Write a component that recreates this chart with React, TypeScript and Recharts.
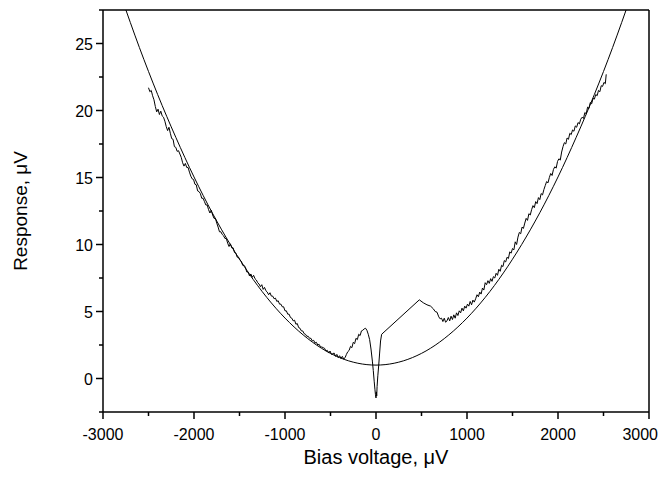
import { LineChart, Line, XAxis, YAxis } from 'recharts'

const FONT = 'Liberation Sans, Arial, Helvetica, sans-serif'

const X_TICKS = [-3000, -2500, -2000, -1500, -1000, -500, 0, 500, 1000, 1500, 2000, 2500, 3000]
const Y_TICKS = [-2.5, 0, 2.5, 5, 7.5, 10, 12.5, 15, 17.5, 20, 22.5, 25, 27.5]

// fitted parabola
const FIT: [number, number][] = [
  [-2800, 28.5], [-2600, 24.7], [-2400, 21.2], [-2200, 18.0], [-2000, 15.04], [-1800, 12.37],
  [-1600, 9.99], [-1400, 7.88], [-1200, 6.05], [-1000, 4.51], [-800, 3.25], [-600, 2.26],
  [-400, 1.56], [-200, 1.14], [0, 1.0], [200, 1.14], [400, 1.56], [600, 2.26], [800, 3.25],
  [1000, 4.51], [1200, 6.05], [1400, 7.88], [1600, 9.99], [1800, 12.37], [2000, 15.04],
  [2200, 18.0], [2400, 21.2], [2600, 24.7], [2800, 28.5],
]

// measured response, negative bias side
const TRACE_LEFT: [number, number][] = [
  [-2500, 21.7], [-2485, 21.4], [-2470, 21.5], [-2455, 21.1], [-2440, 20.8], [-2425, 20.3],
  [-2410, 19.9], [-2395, 20.1], [-2380, 19.7], [-2365, 19.95], [-2350, 19.6], [-2335, 19.5],
  [-2320, 19.2], [-2305, 18.8], [-2290, 18.5], [-2275, 18.75], [-2260, 18.3], [-2245, 17.9],
  [-2230, 17.85], [-2215, 17.3], [-2200, 17.25], [-2185, 16.95], [-2170, 17.0], [-2155, 16.75],
  [-2140, 16.5], [-2125, 16.1], [-2110, 15.85], [-2095, 16.05], [-2080, 15.75], [-2065, 15.75],
  [-2050, 15.4], [-2035, 15.1], [-2020, 14.9], [-2005, 14.85], [-1990, 14.5], [-1975, 14.45],
  [-1960, 14.0], [-1945, 13.95], [-1930, 13.8], [-1915, 13.45], [-1900, 13.45], [-1885, 13.2],
  [-1870, 12.95], [-1855, 12.95], [-1840, 12.6], [-1825, 12.35], [-1810, 12.55], [-1795, 12.2],
  [-1780, 11.95], [-1765, 11.95], [-1750, 11.6], [-1735, 11.3], [-1720, 10.95], [-1705, 10.95],
  [-1690, 10.75], [-1675, 10.65], [-1660, 10.45], [-1645, 10.45], [-1630, 10.1], [-1615, 9.85],
  [-1600, 10.05], [-1585, 9.75], [-1570, 9.75], [-1555, 9.4], [-1540, 9.35], [-1525, 9.05],
  [-1510, 9.05], [-1495, 8.85], [-1480, 8.75], [-1465, 8.45], [-1450, 8.45], [-1435, 8.3],
  [-1420, 7.95], [-1405, 7.95], [-1390, 7.65], [-1375, 7.8], [-1360, 7.55], [-1345, 7.7],
  [-1330, 7.45], [-1315, 7.35], [-1300, 7.15], [-1285, 7.05], [-1270, 6.85], [-1255, 7.0],
  [-1240, 6.65], [-1225, 6.8], [-1210, 6.55], [-1195, 6.45], [-1180, 6.25], [-1165, 6.4],
  [-1150, 6.15], [-1135, 6.15], [-1120, 5.95], [-1105, 6.0], [-1090, 5.75], [-1075, 5.8],
  [-1060, 5.55], [-1045, 5.55], [-1030, 5.35], [-1015, 5.35], [-1000, 5.05], [-985, 5.05],
  [-970, 4.8], [-955, 4.8], [-940, 4.55], [-925, 4.5], [-910, 4.3], [-895, 4.35],
  [-880, 4.05], [-865, 4.1], [-850, 3.8], [-835, 3.75], [-820, 3.55], [-805, 3.55],
  [-790, 3.35], [-775, 3.3], [-760, 3.15], [-745, 3.15], [-730, 3.0], [-715, 3.0],
  [-700, 2.8], [-685, 2.85], [-670, 2.65], [-655, 2.7], [-640, 2.5], [-625, 2.55],
  [-610, 2.35], [-595, 2.35], [-580, 2.3], [-565, 2.25], [-550, 2.05], [-535, 2.1],
  [-520, 1.9], [-505, 2.05], [-490, 1.8], [-475, 1.85], [-460, 1.9], [-445, 1.65],
  [-430, 1.8], [-415, 1.55], [-400, 1.7], [-385, 1.5], [-370, 1.65], [-355, 1.45],
  [-340, 1.55],
]

// bump, dip at zero bias and the gap bridged by a straight segment
const TRACE_CENTER: [number, number][] = [
  [-325, 1.8], [-310, 2.0], [-295, 2.1], [-280, 2.4], [-265, 2.3], [-250, 2.7],
  [-235, 2.6], [-220, 3.0], [-205, 2.9], [-190, 3.3], [-175, 3.2], [-160, 3.55],
  [-145, 3.6], [-130, 3.7], [-115, 3.75], [-100, 3.6], [-85, 3.3], [-70, 2.9],
  [-55, 2.2], [-40, 1.3], [-30, 0.6], [-20, -0.2], [-12, -0.8], [-6, -1.2],
  [0, -1.45], [4, -1.0], [8, -1.3], [12, -0.6], [20, 0.2], [30, 1.0], [40, 1.9],
  [50, 2.8], [62, 3.3], [476, 5.87],
]

// measured response, positive bias side
const TRACE_RIGHT: [number, number][] = [
  [520, 5.65], [560, 5.5], [600, 5.4], [630, 5.2], [650, 5.0], [670, 4.95], [690, 4.6],
  [705, 4.45], [720, 4.5], [735, 4.25], [750, 4.5], [765, 4.2], [780, 4.3], [795, 4.55],
  [810, 4.3], [825, 4.65], [840, 4.4], [855, 4.75], [870, 4.5], [885, 4.9], [900, 4.7],
  [915, 5.05], [930, 4.9], [945, 5.25], [960, 5.05], [975, 5.4], [990, 5.25], [1005, 5.55],
  [1020, 5.4], [1035, 5.75], [1050, 5.5], [1065, 5.85], [1080, 5.7], [1095, 5.95],
  [1110, 6.25], [1125, 6.1], [1140, 6.45], [1155, 6.3], [1170, 6.75], [1185, 6.6],
  [1200, 7.15], [1215, 7.0], [1230, 7.3], [1245, 7.1], [1260, 7.45], [1275, 7.25],
  [1290, 7.6], [1305, 7.5], [1320, 7.85], [1335, 7.7], [1350, 8.15], [1365, 8.0],
  [1380, 8.45], [1395, 8.35], [1410, 8.8], [1425, 8.7], [1440, 9.05], [1455, 8.95],
  [1470, 9.45], [1485, 9.35], [1500, 9.7], [1515, 9.6], [1530, 10.2], [1545, 10.0],
  [1560, 10.55], [1575, 10.9], [1590, 10.8], [1605, 11.3], [1620, 11.2], [1635, 11.6],
  [1650, 11.95], [1665, 11.8], [1680, 12.3], [1695, 12.2], [1710, 12.6], [1725, 12.9],
  [1740, 12.75], [1755, 13.2], [1770, 13.05], [1785, 13.5], [1800, 13.35], [1815, 13.8],
  [1830, 13.7], [1845, 14.1], [1860, 14.4], [1875, 14.7], [1890, 14.6], [1905, 15.0],
  [1920, 15.3], [1935, 15.15], [1950, 15.6], [1965, 15.8], [1980, 15.7], [1995, 16.2],
  [2010, 16.4], [2025, 16.3], [2040, 16.9], [2055, 17.3], [2070, 17.6], [2085, 17.5],
  [2100, 17.95], [2115, 17.85], [2130, 18.3], [2145, 18.2], [2160, 18.55], [2175, 18.45],
  [2190, 18.85], [2205, 18.75], [2220, 19.1], [2235, 19.0], [2250, 19.35], [2265, 19.5],
  [2280, 19.4], [2295, 19.85], [2310, 19.75], [2325, 20.25], [2340, 20.15], [2355, 20.6],
  [2370, 20.5], [2385, 20.9], [2400, 20.85], [2415, 21.2], [2430, 21.1], [2445, 21.5],
  [2460, 21.4], [2475, 21.85], [2490, 21.8], [2505, 22.1], [2520, 22.0], [2530, 22.7],
]

const fitData = FIT.map(([x, y]) => ({ x, y }))
const traceData = [...TRACE_LEFT, ...TRACE_CENTER, ...TRACE_RIGHT].map(([x, y]) => ({ x, y }))

const isMajor = (v: number, step: number) => Math.abs(v / step - Math.round(v / step)) < 1e-6

function makeTick(side: 'left' | 'bottom' | 'right' | 'top', step: number) {
  return (p: any) => {
    const { x, y } = p
    const v = p.payload.value
    const major = isMajor(v, step)
    const len = major ? 7 : 4
    if (side === 'left') return (
      <g>
        <line x1={x} x2={x - len} y1={y} y2={y} stroke="#000" strokeWidth={1.5} />
        {major && <text x={x - 10} y={y + 6} textAnchor="end" fontSize={16} fontFamily={FONT} fill="#000">{v}</text>}
      </g>
    )
    if (side === 'bottom') {
      // the last label would run past the page edge, so it is right-aligned there
      const last = v === X_TICKS[X_TICKS.length - 1]
      return (
        <g>
          <line x1={x} x2={x} y1={y} y2={y + len} stroke="#000" strokeWidth={1.5} />
          {major && <text x={last ? x + 9 : x} y={y + 28} textAnchor={last ? 'end' : 'middle'}
            fontSize={16} fontFamily={FONT} fill="#000">{v}</text>}
        </g>
      )
    }
    if (side === 'right') return <line x1={x} x2={x - len} y1={y} y2={y} stroke="#000" strokeWidth={1.5} />
    return <line x1={x} x2={x} y1={y} y2={y + len} stroke="#000" strokeWidth={1.5} />
  }
}

export default function App() {
  return (
    <LineChart width={651} height={461} margin={{ top: 0, right: 0, bottom: 0, left: 0 }}>
      <XAxis dataKey="x" type="number" domain={[-3000, 3000]} ticks={X_TICKS} interval={0}
        allowDataOverflow height={57} tickSize={0} tickMargin={0} tickLine={false}
        axisLine={{ stroke: '#000', strokeWidth: 1.5 }} tick={makeTick('bottom', 1000)}
        label={{ value: 'Bias voltage, μV', position: 'insideBottom', offset: 5,
          style: { fontSize: 20, fontFamily: FONT, fill: '#000' } }} />
      <XAxis xAxisId="top" orientation="top" type="number" domain={[-3000, 3000]} ticks={X_TICKS}
        interval={0} height={2} tickSize={0} tickMargin={0} tickLine={false}
        axisLine={{ stroke: '#000', strokeWidth: 1.5 }} tick={makeTick('top', 1000)} />
      <YAxis type="number" domain={[-2.5, 27.5]} ticks={Y_TICKS} interval={0} allowDataOverflow
        width={95} tickSize={0} tickMargin={0} tickLine={false}
        axisLine={{ stroke: '#000', strokeWidth: 1.5 }} tick={makeTick('left', 5)}
        label={{ content: (lp: any) => {
          const vb = lp.viewBox
          const cx = vb.x + 12
          const cy = vb.y + vb.height / 2
          return (
            <text x={cx} y={cy} transform={`rotate(-90 ${cx} ${cy})`} textAnchor="middle"
              dominantBaseline="central" fontSize={19} fontFamily={FONT} fill="#000">Response, μV</text>
          )
        } }} />
      <YAxis yAxisId="right" orientation="right" type="number" domain={[-2.5, 27.5]} ticks={Y_TICKS}
        interval={0} width={10} tickSize={0} tickMargin={0} tickLine={false}
        axisLine={{ stroke: '#000', strokeWidth: 1.5 }} tick={makeTick('right', 5)} />
      <Line data={fitData} dataKey="y" type="monotone" dot={false} stroke="#000" strokeWidth={1}
        isAnimationActive={false} />
      <Line data={traceData} dataKey="y" type="linear" dot={false} stroke="#000" strokeWidth={1}
        isAnimationActive={false} />
    </LineChart>
  )
}
